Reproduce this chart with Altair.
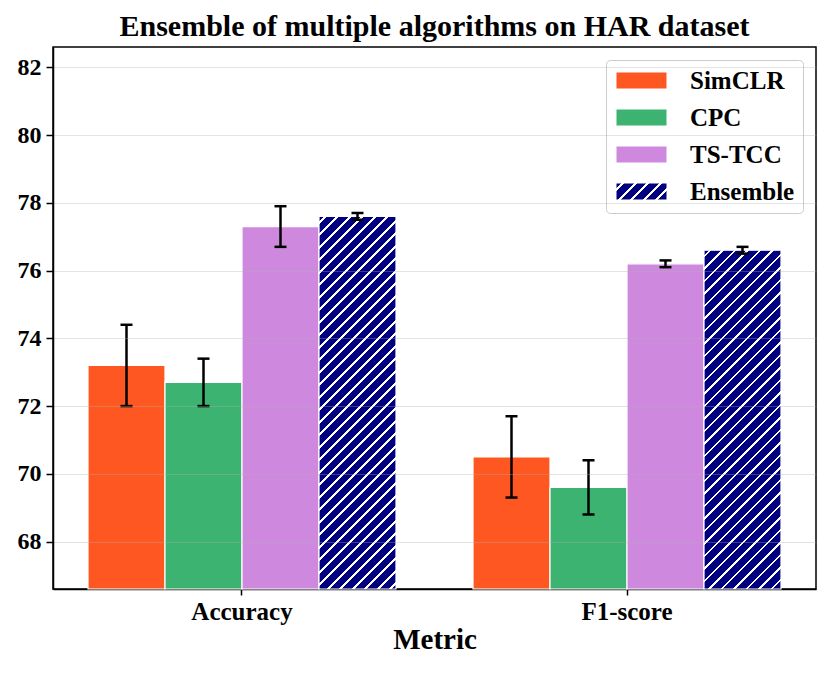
import json
import altair as alt

# ---------------- data ----------------
metrics = ["Accuracy", "F1-score"]
algorithms = ["SimCLR", "CPC", "TS-TCC", "Ensemble"]
accuracy_mean = [73.2, 72.7, 77.3, 77.6]
accuracy_std = [1.2, 0.7, 0.6, 0.1]
f1_mean = [70.5, 69.6, 76.2, 76.6]
f1_std = [1.2, 0.8, 0.1, 0.1]
y_ticks = [68, 70, 72, 74, 76, 78, 80, 82]

# ---------------- style ----------------
colors = ["#FF5722", "#3CB371", "#CE89DF", "#000080"]
FONT = "Liberation Serif"
Y_MIN, Y_MAX = 66.6, 82.6
W, H = 763, 542
P_INNER, P_OUTER = 0.2, 0.0909
step = W / (len(metrics) - P_INNER + 2 * P_OUTER)
bar_w = step * (1 - P_INNER) / len(algorithms)


def hatch(w, h, period=12.5, line=2.8, base="#000080", ink="#ffffff"):
    """Diagonal '/' hatch as a Vega linear gradient with hard stops."""
    total = w + h
    k = total / (w * w + h * h)
    stops = [{"offset": 0, "color": base}]
    i = 0
    while True:
        a = (i * period + period / 2 - line / 2) / total
        b = (i * period + period / 2 + line / 2) / total
        if a >= 1:
            break
        b = min(b, 1.0)
        stops += [
            {"offset": round(a, 5), "color": base},
            {"offset": round(a, 5), "color": ink},
            {"offset": round(b, 5), "color": ink},
            {"offset": round(b, 5), "color": base},
        ]
        i += 1
    stops.append({"offset": 1, "color": base})
    return {"gradient": "linear", "x1": 0, "y1": 0,
            "x2": round(w * k, 6), "y2": round(h * k, 6), "stops": stops}


rows = []
for m, means, stds in zip(metrics, [accuracy_mean, f1_mean], [accuracy_std, f1_std]):
    for a, v, s in zip(algorithms, means, stds):
        rows.append({"metric": m, "algorithm": a, "mean": v, "std": s})

ens_rows = []
for r in rows:
    if r["algorithm"] == "Ensemble":
        h = (r["mean"] - Y_MIN) / (Y_MAX - Y_MIN) * H
        ens_rows.append(dict(r, hatch=hatch(bar_w, h)))

legend_hatch = hatch(50, 16)
color_range = colors[:3] + [alt.ExprRef(expr=json.dumps(legend_hatch))]

base_data = alt.Data(values=rows)

x_enc = alt.X(
    "metric:N",
    sort=metrics,
    scale=alt.Scale(domain=metrics, paddingInner=P_INNER, paddingOuter=P_OUTER),
    axis=alt.Axis(
        title="Metric", labelAngle=0, labelFontSize=25, titleFontSize=29,
        tickSize=6, labelPadding=4, titlePadding=1,
    ),
)
xo_enc = alt.XOffset(
    "algorithm:N",
    scale=alt.Scale(domain=algorithms, paddingInner=0, paddingOuter=0),
)
y_scale = alt.Scale(domain=[Y_MIN, Y_MAX], zero=False, nice=False)
y_axis = alt.Axis(
    title=None, values=y_ticks, grid=True, labelFontSize=24,
    tickSize=7, labelPadding=5, zindex=1,
    gridColor="#b0b0b0", gridOpacity=0.35, gridWidth=1.2,
)

bars = alt.Chart(base_data).transform_filter(
    alt.datum.algorithm != "Ensemble"
).mark_bar(stroke="white", strokeWidth=1.2).encode(
    x=x_enc,
    xOffset=xo_enc,
    y=alt.Y("mean:Q", scale=y_scale, axis=y_axis),
    y2=alt.datum(Y_MIN),
    color=alt.Color(
        "algorithm:N",
        scale=alt.Scale(domain=algorithms, range=color_range),
        legend=alt.Legend(
            title=None, orient="top-right", offset=13,
            symbolType="M-1,-0.8H4V0.8H-1Z", symbolSize=400,
            symbolStrokeWidth=0, symbolOpacity=1,
            labelFontSize=25, labelOffset=51, rowPadding=11, padding=8,
            strokeColor="#cccccc", cornerRadius=4, fillColor="white",
        ),
    ),
)

ens = alt.Chart(alt.Data(values=ens_rows)).mark_bar(
    stroke="white", strokeWidth=1.2
).encode(
    x=x_enc,
    xOffset=xo_enc,
    y=alt.Y("mean:Q", scale=y_scale, axis=y_axis),
    y2=alt.datum(Y_MIN),
    fill=alt.Fill("hatch:N", scale=None, legend=None),
)

err_base = alt.Chart(base_data).transform_calculate(
    lo="datum.mean - datum.std", hi="datum.mean + datum.std"
)

err_rule = err_base.mark_rule(color="black", strokeWidth=2.5).encode(
    x=x_enc, xOffset=xo_enc,
    y=alt.Y("lo:Q", scale=y_scale, axis=y_axis),
    y2="hi:Q",
)
cap_lo = err_base.mark_tick(color="black", thickness=2.5, size=12, opacity=1).encode(
    x=x_enc, xOffset=xo_enc,
    y=alt.Y("lo:Q", scale=y_scale, axis=y_axis),
)
cap_hi = err_base.mark_tick(color="black", thickness=2.5, size=12, opacity=1).encode(
    x=x_enc, xOffset=xo_enc,
    y=alt.Y("hi:Q", scale=y_scale, axis=y_axis),
)

chart = alt.layer(bars, ens, err_rule, cap_lo, cap_hi).properties(
    width=W, height=H,
    autosize=alt.AutoSizeParams(type="none"),
    padding={"left": 45, "top": 39, "right": 6, "bottom": 76},
    title=alt.TitleParams(
        "Ensemble of multiple algorithms on HAR dataset",
        font=FONT, fontSize=30, fontWeight="bold", color="black",
        anchor="middle", frame="group", offset=5,
    ),
).configure_view(
    stroke="black", strokeWidth=1.5
).configure_axis(
    labelFont=FONT, titleFont=FONT, labelFontWeight="bold", titleFontWeight="bold",
    labelColor="black", titleColor="black", tickColor="black", tickWidth=1.5,
    domainColor="black", domainWidth=1.5,
).configure_legend(
    labelFont=FONT, labelFontWeight="bold", labelColor="black",
)

chart.save("out.html", embed_options={"renderer": "svg", "actions": False})
